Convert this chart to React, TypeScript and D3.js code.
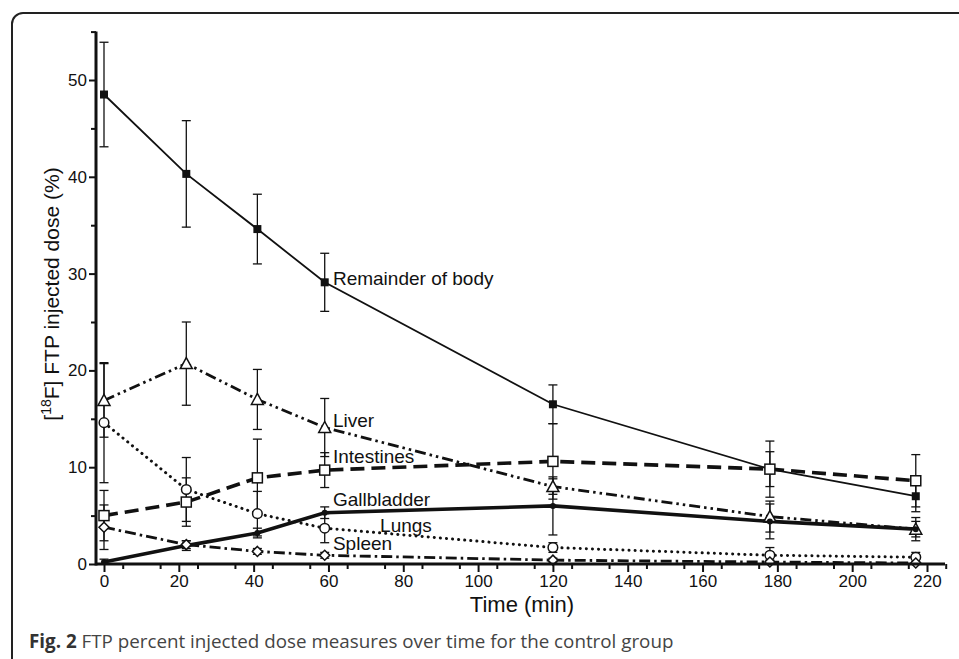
import React, { useEffect, useRef } from "react";
import * as d3 from "d3";

// sample times (min)
const times = [0, 22, 41, 59, 120, 178, 217];

// mean % injected dose and error per organ
const remainderMean = [48.5, 40.3, 34.6, 29.1, 16.5, 9.8, 7.0];
const remainderErr = [5.4, 5.5, 3.6, 3.0, 2.0, 1.8, 1.6];
const liverMean = [16.9, 20.7, 17.0, 14.1, 8.0, 4.9, 3.6];
const liverErr = [3.8, 4.3, 3.1, 3.0, 0.8, 1.6, 1.2];
const intestinesMean = [5.0, 6.4, 8.9, 9.7, 10.6, 9.8, 8.6];
const intestinesErr = [2.6, 2.5, 4.0, 1.8, 3.9, 2.9, 2.7];
const gallbladderMean = [0.2, 1.9, 3.2, 5.3, 6.0, 4.4, 3.6];
const gallbladderErr = [0.3, 0.5, 0.5, 0.6, 3.0, 1.8, 0.8];
const lungsMean = [14.6, 7.7, 5.2, 3.7, 1.7, 0.9, 0.7];
const lungsErr = [6.2, 3.3, 2.3, 1.5, 0.5, 0.8, 0.5];
const spleenMean = [3.8, 2.0, 1.3, 0.9, 0.4, 0.2, 0.1];
const spleenErr = [2.3, 0.4, 0.3, 0.3, 0.2, 0.2, 0.1];

const xTicks = [0, 20, 40, 60, 80, 100, 120, 140, 160, 180, 200, 220];
const yTicks = [0, 10, 20, 30, 40, 50];

const series = [
  { name: "Remainder of body", mean: remainderMean, err: remainderErr, marker: "fsquare", dash: null, width: 1.8, labelAt: [61.2, 28.8] },
  { name: "Liver", mean: liverMean, err: liverErr, marker: "triangle", dash: "11,4,2.5,4,2.5,4", width: 2.8, labelAt: [61.2, 14.15] },
  { name: "Intestines", mean: intestinesMean, err: intestinesErr, marker: "square", dash: "14,7", width: 3.6, labelAt: [61.2, 10.4] },
  { name: "Gallbladder", mean: gallbladderMean, err: gallbladderErr, marker: "dot", dash: null, width: 3.6, labelAt: [61.2, 6.0] },
  { name: "Lungs", mean: lungsMean, err: lungsErr, marker: "circle", dash: "0.1,6", width: 3, labelAt: [73.8, 3.3] },
  { name: "Spleen", mean: spleenMean, err: spleenErr, marker: "diamond", dash: "11,4,2.5,4", width: 2.8, labelAt: [61.2, 1.45] },
];

const App = () => {
  const ref = useRef<SVGSVGElement>(null);

  useEffect(() => {
    const svg = d3.select(ref.current);
    svg.selectAll("*").remove();

    const x = d3.scaleLinear().domain([0, 220]).range([104, 927]);
    const y = d3.scaleLinear().domain([0, 50]).range([564, 80]);
    const font = "Liberation Sans, Arial, sans-serif";

    // figure frame
    svg.append("rect").attr("x", 12).attr("y", 13).attr("width", 1000).attr("height", 700)
      .attr("rx", 11).attr("fill", "none").attr("stroke", "#222").attr("stroke-width", 2);

    // error bars
    const eb = svg.append("g").attr("stroke", "#111").attr("stroke-width", 1.3);
    series.forEach(s => {
      times.forEach((t, i) => {
        const cx = x(t), top = y(s.mean[i] + s.err[i]), bot = y(Math.max(0, s.mean[i] - s.err[i]));
        eb.append("line").attr("x1", cx).attr("x2", cx).attr("y1", top).attr("y2", bot);
        eb.append("line").attr("x1", cx - 4.5).attr("x2", cx + 4.5).attr("y1", top).attr("y2", top);
        if (s.mean[i] - s.err[i] > 0)
          eb.append("line").attr("x1", cx - 4.5).attr("x2", cx + 4.5).attr("y1", bot).attr("y2", bot);
      });
    });

    // lines
    const line = d3.line<number>().x((d, i) => x(times[i])).y(d => y(d));
    series.forEach(s => {
      svg.append("path").datum(s.mean).attr("d", line).attr("fill", "none").attr("stroke", "#111")
        .attr("stroke-width", s.width).attr("stroke-dasharray", s.dash)
        .attr("stroke-linecap", s.name === "Lungs" ? "round" : "butt");
    });

    // markers
    series.forEach(s => {
      const g = svg.append("g");
      s.mean.forEach((v, i) => {
        const cx = x(times[i]), cy = y(v);
        if (s.marker === "fsquare") g.append("rect").attr("x", cx - 4).attr("y", cy - 4).attr("width", 8).attr("height", 8).attr("fill", "#111");
        if (s.marker === "square") g.append("rect").attr("x", cx - 5).attr("y", cy - 5).attr("width", 10).attr("height", 10).attr("fill", "#fff").attr("stroke", "#111").attr("stroke-width", 1.5);
        if (s.marker === "dot") g.append("circle").attr("cx", cx).attr("cy", cy).attr("r", 3).attr("fill", "#111");
        if (s.marker === "circle") g.append("circle").attr("cx", cx).attr("cy", cy).attr("r", 4.8).attr("fill", "#fff").attr("stroke", "#111").attr("stroke-width", 1.5);
        if (s.marker === "triangle") g.append("path").attr("d", `M${cx},${cy - 6}L${cx + 6},${cy + 5}L${cx - 6},${cy + 5}Z`).attr("fill", "#fff").attr("stroke", "#111").attr("stroke-width", 1.5);
        if (s.marker === "diamond") g.append("path").attr("d", `M${cx},${cy - 5}L${cx + 5},${cy}L${cx},${cy + 5}L${cx - 5},${cy}Z`).attr("fill", "#fff").attr("stroke", "#111").attr("stroke-width", 1.5);
      });
      svg.append("text").attr("x", x(s.labelAt[0])).attr("y", y(s.labelAt[1])).text(s.name)
        .attr("font-family", font).attr("font-size", 19).attr("fill", "#111");
    });

    // axes
    svg.append("g").attr("transform", "translate(0,564)")
      .call(d3.axisBottom(x).tickValues(xTicks).tickSize(8).tickPadding(3).tickFormat(d3.format("d")));
    svg.append("g").attr("transform", "translate(0,564)")
      .call(d3.axisBottom(x).tickValues(d3.range(5, 230, 10)).tickSize(5).tickFormat(() => ""));
    svg.append("g").attr("transform", "translate(96,0)")
      .call(d3.axisLeft(y).tickValues(yTicks).tickSize(7).tickPadding(2).tickFormat(d3.format("d")));
    svg.append("g").attr("transform", "translate(96,0)")
      .call(d3.axisLeft(y).tickValues([5, 15, 25, 35, 45, 55]).tickSize(5).tickFormat(() => ""));
    svg.selectAll(".domain").remove();
    svg.selectAll(".tick line").attr("stroke", "#111").attr("stroke-width", 2);
    svg.selectAll(".tick text").attr("font-family", font).attr("font-size", 17).attr("fill", "#111");
    svg.append("line").attr("x1", 96).attr("x2", 945).attr("y1", 564).attr("y2", 564).attr("stroke", "#111").attr("stroke-width", 3);
    svg.append("line").attr("x1", 96).attr("x2", 96).attr("y1", 565.5).attr("y2", y(55)).attr("stroke", "#111").attr("stroke-width", 3);

    // axis titles
    svg.append("text").attr("x", 522).attr("y", 612).attr("text-anchor", "middle")
      .attr("font-family", font).attr("font-size", 22).attr("fill", "#111").text("Time (min)");
    const yl = svg.append("text").attr("transform", "translate(59,294) rotate(-90)").attr("text-anchor", "middle")
      .attr("font-family", font).attr("font-size", 21).attr("fill", "#111");
    yl.append("tspan").text("[");
    yl.append("tspan").attr("font-size", 14).attr("dy", -8).text("18");
    yl.append("tspan").attr("dy", 8).text("F] FTP injected dose (%)");

    // caption
    const cap = svg.append("text").attr("x", 29).attr("y", 648).attr("font-family", "Open Sans, sans-serif").attr("font-size", 18.8);
    cap.append("tspan").attr("font-weight", "bold").attr("fill", "#333").text("Fig. 2");
    cap.append("tspan").attr("fill", "#444").text(" FTP percent injected dose measures over time for the control group");
  }, []);

  return (
    <svg ref={ref} width={959} height={659} style={{ position: "absolute", left: 0, top: 0, background: "#fff" }} />
  );
};

export default App;
